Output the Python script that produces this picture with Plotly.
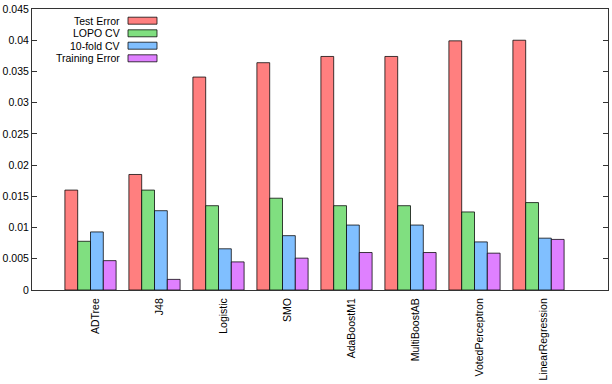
import plotly.graph_objects as go

categories = ["ADTree", "J48", "Logistic", "SMO", "AdaBoostM1", "MultiBoostAB",
              "VotedPerceptron", "LinearRegression"]
series_names = ["Test Error", "LOPO CV", "10-fold CV", "Training Error"]
test_error = [0.0160, 0.0185, 0.0341, 0.0364, 0.0374, 0.0374, 0.0399, 0.0400]
lopo_cv = [0.0078, 0.0160, 0.0135, 0.0147, 0.0135, 0.0135, 0.0125, 0.0140]
tenfold_cv = [0.0093, 0.0127, 0.0066, 0.0087, 0.0104, 0.0104, 0.0077, 0.0083]
training_error = [0.0047, 0.0017, 0.0045, 0.0051, 0.0060, 0.0060, 0.0059, 0.0081]
y_ticks = [0, 0.005, 0.01, 0.015, 0.02, 0.025, 0.03, 0.035, 0.04, 0.045]
y_tick_text = ["0", "0.005", "0.01", "0.015", "0.02", "0.025", "0.03", "0.035", "0.04", "0.045"]

colors = ["#ff7f7f", "#80df80", "#80bfff", "#df80ff"]
series = [test_error, lopo_cv, tenfold_cv, training_error]

W, H = 612, 384
L, R, T, B = 32, 4, 9, 94
PW, PH = W - L - R, H - T - B

FONT = "Liberation Sans, Arial, sans-serif"
FS = 10.5

x = list(range(len(categories)))
fig = go.Figure()
for name, vals, col in zip(series_names, series, colors):
    fig.add_trace(go.Bar(
        x=x, y=vals, name=name, marker=dict(color=col, line=dict(color="rgba(0,0,0,0.75)", width=1)),
        showlegend=False,
    ))

# custom legend (text left, swatch right, gnuplot style)
def px2paper(px, py):
    return (px - L) / PW, (H - B - py) / PH

row_y = [20.7, 33.3, 45.7, 58.3]
for name, col, ry in zip(series_names, colors, row_y):
    tx, ty = px2paper(122, ry)
    fig.add_annotation(x=tx, y=ty, xref="paper", yref="paper", text=name,
                       showarrow=False, xanchor="right", yanchor="middle",
                       font=dict(family=FONT, size=FS, color="black"))
    x0, y0 = px2paper(128, ry + 3.5)
    x1, y1 = px2paper(157, ry - 3.5)
    fig.add_shape(type="rect", xref="paper", yref="paper", x0=x0, x1=x1, y0=y0, y1=y1,
                  fillcolor=col, line=dict(color="rgba(0,0,0,0.75)", width=1))

fig.update_layout(
    width=W, height=H, autosize=False,
    margin=dict(l=L, r=R, t=T, b=B),
    paper_bgcolor="white", plot_bgcolor="white",
    barmode="group", bargap=0.2, bargroupgap=0,
    font=dict(family=FONT, size=FS, color="black"),
)
fig.update_xaxes(
    range=[-0.914, 8.086], tickvals=[i + 0.086 for i in x], ticktext=categories,
    tickangle=-90, showline=True, linecolor="#333333", linewidth=1, mirror=True,
    ticks="", showgrid=False, zeroline=False, ticklabelstandoff=3, automargin=False,
    tickfont=dict(family=FONT, size=FS, color="black"),
)
fig.update_yaxes(
    range=[0, 0.045], tickvals=y_ticks, ticktext=y_tick_text,
    showline=True, linecolor="#333333", linewidth=1, mirror="ticks",
    ticks="inside", ticklen=5, tickcolor="#333333", showgrid=False, zeroline=False,
    automargin=False,
    tickfont=dict(family=FONT, size=FS, color="black"),
)

fig.write_html("out.html")
